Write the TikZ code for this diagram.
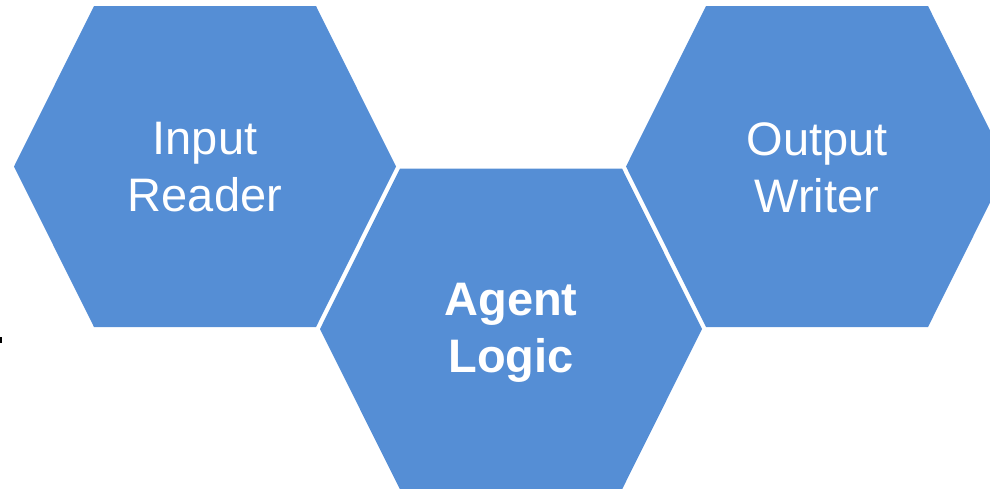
\documentclass[tikz,border=0pt]{standalone}
\usepackage{fontspec}
\setmainfont{Liberation Sans}
\definecolor{hexblue}{RGB}{85,142,213}
\tikzset{hexlabel/.style={white, align=center, inner sep=0pt, font=\fontsize{47}{57}\selectfont}}
\begin{document}
\begin{tikzpicture}[x=1pt,y=-1pt]
    \useasboundingbox (0,0) rectangle (990,488);
    \clip (0,0) rectangle (990,488);
    \foreach \cx/\cy in {205/166.5, 511/329, 817/166.5}
        \fill[hexblue] (\cx-191,\cy) -- (\cx-111,\cy-160.5) -- (\cx+111,\cy-160.5)
            -- (\cx+191,\cy) -- (\cx+111,\cy+160.5) -- (\cx-111,\cy+160.5) -- cycle;
    \node[hexlabel] (input) at (205,167.5) {Input\\Reader};
    \node[hexlabel, font=\fontsize{47}{57}\selectfont\bfseries] (agent) at (511,333) {Agent\\Logic};
    \node[hexlabel] (output) at (817,167.5) {Output\\Writer};
    \draw[line width=1.5pt] (0.75,337) -- (0.75,343);
\end{tikzpicture}
\end{document}
